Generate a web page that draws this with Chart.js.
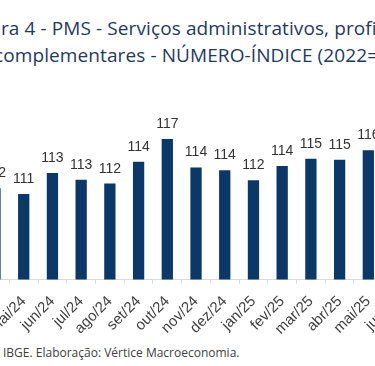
<!DOCTYPE html>
<html>
<head>
<meta charset="utf-8">
<script src="https://cdn.jsdelivr.net/npm/chart.js@4.4.0/dist/chart.umd.min.js"></script>
<style>
  html, body { margin: 0; padding: 0; background: #fff; }
  body { width: 375px; height: 366px; overflow: hidden; position: relative; }
  .tit { position: absolute; white-space: nowrap; font-family: "Open Sans", sans-serif;
         font-size: 19px; line-height: 22px; letter-spacing: 0.1px; color: #1f3864; }
  #fonte { position: absolute; left: 3px; top: 345.5px; white-space: nowrap;
           font-family: "Open Sans", sans-serif; font-size: 12px; line-height: 13px; color: #404040; }
  #grafico { position: absolute; left: -80px; top: 90px; }
</style>
</head>
<body>
<div class="tit" style="left:1px; top:17px;">ra 4 - PMS - Serviços administrativos, profissionais e</div>
<div class="tit" style="left:-6px; top:43.5px;">complementares - NÚMERO-ÍNDICE (2022=100)</div>
<canvas id="grafico" width="560" height="250"></canvas>
<div id="fonte">IBGE. Elaboração: Vértice Macroeconomia.</div>
<script>
// meses visiveis no recorte (jun/25 so aparece o rotulo)
const meses = ['abr/24', 'mai/24', 'jun/24', 'jul/24', 'ago/24', 'set/24', 'out/24',
  'nov/24', 'dez/24', 'jan/25', 'fev/25', 'mar/25', 'abr/25', 'mai/25', 'jun/25'];
const indice = [111.6, 111.0, 113.2, 112.5, 112.1, 114.4, 116.8,
  113.8, 113.5, 112.45, 113.95, 114.7, 114.6, 115.6, null];
const eixoMin = 102;
const eixoMax = 120;

// escreve o valor arredondado em cima de cada barra
const rotulos = {
  id: 'rotulos',
  afterDatasetsDraw(chart) {
    const ctx = chart.ctx;
    const meta = chart.getDatasetMeta(0);
    ctx.save();
    ctx.font = '14px "Liberation Sans", Arial, sans-serif';
    ctx.fillStyle = '#333333';
    ctx.textAlign = 'center';
    ctx.textBaseline = 'alphabetic';
    meta.data.forEach((bar, i) => {
      const v = indice[i];
      if (v == null) return;
      ctx.fillText(String(Math.round(v)), bar.x, bar.y - 11);
    });
    ctx.restore();
  }
};

const ctx = document.getElementById('grafico').getContext('2d');
new Chart(ctx, {
  type: 'bar',
  data: {
    labels: meses,
    datasets: [{
      data: indice,
      backgroundColor: '#0a3869',
      categoryPercentage: 1,
      barPercentage: 0.393
    }]
  },
  options: {
    responsive: false,
    devicePixelRatio: 1,
    animation: false,
    layout: { padding: { left: 60.64, right: 68.6, top: 18.5, bottom: 0 } },
    plugins: { legend: { display: false }, tooltip: { enabled: false }, title: { display: false } },
    scales: {
      y: { display: false, min: eixoMin, max: eixoMax },
      x: {
        grid: { drawOnChartArea: false, drawTicks: true, tickLength: 4, color: '#d9d9d9' },
        border: { display: true, color: '#d9d9d9' },
        ticks: {
          autoSkip: false,
          maxRotation: 45,
          minRotation: 45,
          padding: 9,
          color: '#404040',
          font: { family: '"Liberation Sans", Arial, sans-serif', size: 15 }
        },
        afterFit(scale) { scale.height = 60.5; }
      }
    }
  },
  plugins: [rotulos]
});
</script>
</body>
</html>
